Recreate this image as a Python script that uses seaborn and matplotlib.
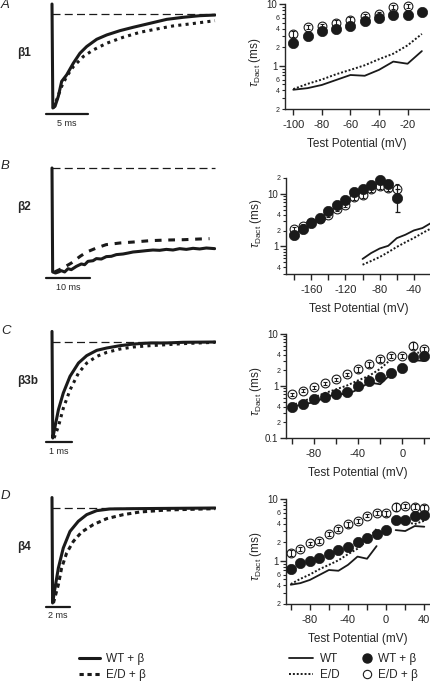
import numpy as np
import pandas as pd
import matplotlib
matplotlib.use("Agg")
import matplotlib.pyplot as plt
import seaborn as sns
from matplotlib.ticker import FixedLocator, LogLocator, FuncFormatter
from matplotlib.lines import Line2D

# ---------------- data: tail-current traces (time in ms, current normalised) ----------------
a_t_wt = [0, 0.1, 0.36, 0.75, 1.15, 1.75, 2.54, 3.33, 4.13, 5.32, 6.51, 8.1, 9.68, 11.67, 13.65, 15.63, 17.6, 19.4]
a_i_wt = [1.106, 0, 0.018, 0.124, 0.283, 0.353, 0.477, 0.583, 0.654, 0.731, 0.777, 0.823, 0.859, 0.901, 0.943, 0.965, 0.982, 0.989]
a_t_ed = [0.15, 0.56, 1.15, 1.75, 2.54, 3.73, 4.92, 6.51, 8.49, 10.5, 12.5, 14.4, 16.4, 19.4]
a_i_ed = [0.0, 0.088, 0.23, 0.336, 0.44, 0.548, 0.618, 0.689, 0.753, 0.806, 0.841, 0.873, 0.894, 0.929]

b_t_wt = [0, 0.15, 0.8, 1.5, 2.12, 2.88, 3.64, 4.39, 5.53, 6.67, 7.42, 8.18, 9.32, 10.08, 11.21, 12.35, 13.48,
          14.62, 16.14, 17.27, 18.41, 19.92, 21.44, 22.95, 24.47, 25.98, 27.5, 29.02, 30.53, 32.05, 33.56, 35.08, 36.97]
b_i_wt = [1.0, 0.01, 0.0, 0.01, 0.022, 0.010, 0.041, 0.032, 0.063, 0.086, 0.079, 0.111, 0.117, 0.137, 0.133, 0.156, 0.159,
          0.175, 0.181, 0.190, 0.2, 0.206, 0.213, 0.219, 0.216, 0.225, 0.219, 0.232, 0.225, 0.235, 0.229, 0.238, 0.232]
b_t_ed = [0.6, 2.5, 4.4, 6.4, 7.9, 10.1, 12.3, 15.5, 18.5, 22.3, 26.1, 29.8, 33.6, 35.8]
b_i_ed = [0.01, 0.048, 0.095, 0.159, 0.2, 0.238, 0.27, 0.286, 0.295, 0.308, 0.314, 0.317, 0.324, 0.327]

c_t_wt = [0, 0.03, 0.12, 0.25, 0.44, 0.7, 1.03, 1.35, 1.74, 2.13, 2.65, 3.17, 3.82, 4.47, 5.1, 6.35]
c_i_wt = [1.11, 0.0, 0.12, 0.295, 0.469, 0.642, 0.781, 0.858, 0.913, 0.9375, 0.962, 0.979, 0.99, 0.99, 0.997, 1.0]
c_t_ed = [0.08, 0.25, 0.44, 0.7, 1.03, 1.35, 1.74, 2.13, 2.65, 3.17, 3.82, 4.47, 5.1, 6.35]
c_i_ed = [0.0, 0.12, 0.31, 0.50, 0.677, 0.78, 0.85, 0.892, 0.927, 0.948, 0.962, 0.972, 0.983, 0.997]

d_t_wt = [0, 0.05, 0.25, 0.53, 0.94, 1.5, 2.19, 2.89, 3.72, 4.83, 6.78, 13.6]
d_i_wt = [1.11, 0.0, 0.158, 0.368, 0.579, 0.754, 0.86, 0.93, 0.972, 0.99, 0.993, 1.0]
d_t_ed = [0.12, 0.53, 0.8, 1.22, 1.78, 2.47, 3.44, 4.56, 5.94, 7.33, 9.56, 13.6]
d_i_ed = [0.0, 0.193, 0.368, 0.526, 0.649, 0.747, 0.825, 0.888, 0.93, 0.958, 0.979, 0.993]

# ---------------- data: tau deactivation vs test potential ----------------
# WT / E-D channels without beta (shared by A, C, D), gap at 0 mV
line_v = [-100, -90, -80, -70, -60, -50, -40, -30, -20, -10, 10, 20, 30, 40]
line_seg = [0, 0, 0, 0, 0, 0, 0, 0, 0, 0, 1, 1, 1, 1]
wt_line = [0.41, 0.435, 0.49, 0.59, 0.71, 0.69, 0.86, 1.17, 1.08, 1.73, 3.14, 3.03, 3.65, 3.56]
ed_line = [0.42, 0.51, 0.60, 0.73, 0.86, 1.02, 1.28, 1.57, 2.14, 3.28, 4.45, 4.29, 3.93, 4.45]

# beta2 panel has its own no-beta curves
b_line_v = [-100, -90, -80, -70, -60, -50, -40, -30, -20]
b_line_seg = [0] * 9
b_wt_line = [0.58, 0.75, 0.915, 1.03, 1.44, 1.67, 2.02, 2.24, 2.79]
b_ed_line = [0.45, 0.53, 0.63, 0.78, 0.98, 1.2, 1.45, 1.8, 2.2]

a_v = [-100, -90, -80, -70, -60, -50, -40, -30, -20, -10]
a_wtb = [2.36, 3.0, 3.6, 3.9, 4.45, 5.4, 5.9, 6.6, 6.6, 7.3]
a_wtb_err = [0.2, 0.2, 0.25, 0.3, 0.3, 0.3, 0.3, 0.4, 0.4, 0.4]
a_edb = [3.24, 4.2, 4.35, 4.9, 5.55, 6.5, 6.9, 9.0, 9.4]
a_edb_err = [0.35, 0.3, 0.35, 0.55, 0.7, 0.35, 0.4, 0.8, 0.7]

b_v = [-180, -170, -160, -150, -140, -130, -120, -110, -100, -90, -80, -70, -60]
b_wtb = [1.62, 2.18, 2.79, 3.48, 4.67, 6.25, 7.8, 10.8, 12.1, 14.7, 18.0, 15.3, 8.4]
b_wtb_err = [0.15, 0.2, 0.2, 0.3, 0.4, 0.6, 0.7, 1.0, 1.2, 1.4, 1.8, 1.6, 3.9]
b_edb = [2.18, 2.5, 2.9, 3.3, 4.0, 5.2, 6.25, 8.8, 9.7, 12.5, 14.4, 13.0, 12.6]
b_edb_err = [0.2, 0.2, 0.25, 0.3, 0.4, 0.5, 0.6, 1.0, 1.2, 1.5, 1.8, 1.5, 3.0]

c_v = [-100, -90, -80, -70, -60, -50, -40, -30, -20, -10, 0, 10, 20]
c_wtb = [0.40, 0.46, 0.56, 0.62, 0.69, 0.78, 1.0, 1.27, 1.51, 1.8, 2.25, 3.67, 3.78]
c_wtb_err = [0.02, 0.02, 0.03, 0.03, 0.04, 0.04, 0.05, 0.06, 0.08, 0.09, 0.1, 0.3, 0.3]
c_edb = [0.69, 0.81, 0.94, 1.12, 1.36, 1.68, 2.09, 2.61, 3.26, 3.83, 3.83, 5.97, 5.15]
c_edb_err = [0.05, 0.05, 0.06, 0.07, 0.09, 0.12, 0.2, 0.3, 0.35, 0.3, 0.3, 0.9, 0.45]

d_v = [-100, -90, -80, -70, -60, -50, -40, -30, -20, -10, 0, 10, 20, 30, 40]
d_wtb = [0.73, 0.91, 0.98, 1.13, 1.31, 1.49, 1.69, 2.0, 2.3, 2.67, 3.14, 4.57, 4.57, 5.3, 5.5]
d_wtb_err = [0.04, 0.05, 0.05, 0.06, 0.07, 0.08, 0.09, 0.1, 0.12, 0.15, 0.2, 0.4, 0.4, 0.5, 0.6]
d_edb = [1.36, 1.58, 1.91, 2.11, 2.71, 3.26, 3.88, 4.45, 5.37, 6.0, 5.86, 7.5, 7.7, 7.5, 7.1]
d_edb_err = [0.15, 0.12, 0.14, 0.16, 0.2, 0.25, 0.35, 0.3, 0.35, 0.45, 0.5, 1.1, 0.5, 0.7, 0.9]

labels_beta = ["β1", "β2", "β3b", "β4"]
panel_letters = ["A", "B", "C", "D"]
scale_ms = [5, 10, 1, 2]

# ---------------- style ----------------
sns.set_theme(style="ticks")
plt.rcParams["font.family"] = ["Liberation Sans", "DejaVu Sans"]
plt.rcParams["mathtext.fontset"] = "custom"
plt.rcParams["mathtext.rm"] = "Liberation Sans"
plt.rcParams["mathtext.it"] = "Liberation Sans:italic"
plt.rcParams["axes.unicode_minus"] = False
plt.rcParams["axes.linewidth"] = 1.0

W, H = 431, 682
fig = plt.figure(figsize=(W / 100, H / 100), dpi=100)


def px_axes(l, t, r, b):
    return fig.add_axes([l / W, 1 - b / H, (r - l) / W, (b - t) / H])


def minor_label(v, pos, lab):
    # only a few minor ticks carry a label, showing just the leading digit
    for l in lab:
        if abs(v - l) < 1e-6 * max(l, 1):
            return str(int(round(v / 10 ** np.floor(np.log10(v)))))
    return ""


# ---------------- left column: traces ----------------
# (pixels per ms, pixel of zero current, pixel of full current, scale bar offset)
trace_geom = [(8.4, 108, 14, 6), (4.4, 273, 168, 5), (25.7, 438, 342, 4), (12.0, 603, 508, 4)]
traces = [(a_t_wt, a_i_wt, a_t_ed, a_i_ed, (0, (1.0, 1.4))),
          (b_t_wt, b_i_wt, b_t_ed, b_i_ed, (0, (2.2, 2.2))),
          (c_t_wt, c_i_wt, c_t_ed, c_i_ed, (0, (1.0, 1.4))),
          (d_t_wt, d_i_wt, d_t_ed, d_i_ed, (0, (1.4, 1.2)))]

for k, ((pxms, y0, y1, boff), (t_wt, i_wt, t_ed, i_ed, dash)) in enumerate(zip(trace_geom, traces)):
    span = y0 - y1
    ax = px_axes(40, y1 - 14, 216, y0 + 24)
    ax.set_xlim((40 - 52) / pxms, (216 - 52) / pxms)
    ax.set_ylim(-24 / span, 1 + 14 / span)
    ax.axis("off")
    t_end = max(max(t_wt), max(t_ed))
    ax.hlines(1, 0, t_end, colors="k", lw=0.9, linestyles=(0, (6.4, 3.4)))
    sns.lineplot(x=t_ed, y=i_ed, estimator=None, sort=False, color="k", lw=2.2,
                 linestyle=dash, ax=ax)
    sns.lineplot(x=t_wt, y=i_wt, estimator=None, sort=False, color="k", lw=2.2, ax=ax)
    # scale bar
    x_start = (46 - 52) / pxms
    yb = -boff / span
    ax.plot([x_start, x_start + scale_ms[k]], [yb, yb], color="k", lw=1.6, clip_on=False)
    ax.text(x_start + scale_ms[k] / 2, -(boff + 9) / span, f"{scale_ms[k]} ms",
            ha="center", va="center", fontsize=6.5)
    fig.text(17 / W, 1 - (y1 + 39) / H, labels_beta[k], fontsize=8.5, fontweight="bold",
             va="center", ha="left")

for letter, yc in zip(panel_letters, [5, 166, 331, 496]):
    fig.text(1 / W, 1 - yc / H, letter, fontsize=9.5, style="italic", va="center", ha="left")

# ---------------- right column: tau vs voltage ----------------
panels = [
    dict(box=(285, 4, 429, 109), xlim=(-105.8, -5.0), ylim=(0.2, 10),
         xmaj=[-100, -80, -60, -40, -20], xmin=[], ymaj=[1, 10], ylab=[0.2, 0.4, 0.6, 2, 4, 6],
         v=a_v, wtb=a_wtb, wtb_err=a_wtb_err, edb=a_edb, edb_err=a_edb_err,
         lv=line_v, lseg=line_seg, lwt=wt_line, led=ed_line, ly=0.45),
    dict(box=(286, 178, 431, 274), xlim=(-189.5, -20), ylim=(0.3, 20),
         xmaj=[-160, -120, -80, -40], xmin=[-180, -140, -100, -60, -20], ymaj=[1, 10], ylab=[0.4, 2, 4, 20],
         v=b_v, wtb=b_wtb, wtb_err=b_wtb_err, edb=b_edb, edb_err=b_edb_err,
         lv=b_line_v, lseg=b_line_seg, lwt=b_wt_line, led=b_ed_line, ly=0.53),
    dict(box=(286, 334, 430, 438), xlim=(-105, 25), ylim=(0.1, 10),
         xmaj=[-80, -40, 0], xmin=[-100, -60, -20, 20], ymaj=[0.1, 1, 10], ylab=[0.2, 0.4, 2, 4],
         v=c_v, wtb=c_wtb, wtb_err=c_wtb_err, edb=c_edb, edb_err=c_edb_err,
         lv=line_v, lseg=line_seg, lwt=wt_line, led=ed_line, ly=0.45),
    dict(box=(286, 499, 430, 604), xlim=(-105, 46), ylim=(0.2, 10),
         xmaj=[-80, -40, 0, 40], xmin=[-100, -60, -20, 20], ymaj=[1, 10], ylab=[0.2, 0.4, 0.6, 2, 4, 6],
         v=d_v, wtb=d_wtb, wtb_err=d_wtb_err, edb=d_edb, edb_err=d_edb_err,
         lv=line_v, lseg=line_seg, lwt=wt_line, led=ed_line, ly=0.46),
]

for p in panels:
    ax = px_axes(*p["box"])
    ax.set_yscale("log")
    lines = pd.DataFrame({"v": p["lv"], "seg": p["lseg"], "wt": p["lwt"], "ed": p["led"]})
    lines = lines[(lines.v >= p["xlim"][0]) & (lines.v <= p["xlim"][1] + 1)]
    sns.lineplot(data=lines, x="v", y="wt", units="seg", estimator=None, color="k", lw=1.3, ax=ax, zorder=2)
    sns.lineplot(data=lines, x="v", y="ed", units="seg", estimator=None, color="k", lw=1.4,
                 linestyle=(0, (1, 1)), ax=ax, zorder=2)
    n_ed = len(p["edb"])
    sns.scatterplot(x=p["v"][:n_ed], y=p["edb"], marker="o", s=40, facecolor="white", edgecolor="k",
                    linewidth=0.8, ax=ax, zorder=3, clip_on=False)
    ax.errorbar(p["v"][:n_ed], p["edb"], yerr=p["edb_err"], fmt="none", ecolor="k", elinewidth=0.8,
                capsize=1.6, capthick=0.8, zorder=4)
    ax.errorbar(p["v"], p["wtb"], yerr=p["wtb_err"], fmt="none", ecolor="k", elinewidth=0.9,
                capsize=1.8, capthick=0.9, zorder=5)
    sns.scatterplot(x=p["v"], y=p["wtb"], marker="o", s=55, color="k", edgecolor="k",
                    linewidth=0.5, ax=ax, zorder=6, clip_on=False)

    ax.set_xlim(*p["xlim"])
    ax.set_ylim(*p["ylim"])
    ax.xaxis.set_major_locator(FixedLocator(p["xmaj"]))
    ax.xaxis.set_minor_locator(FixedLocator(p["xmin"]))
    ax.yaxis.set_major_locator(FixedLocator(p["ymaj"]))
    ax.yaxis.set_major_formatter(FuncFormatter(lambda v, pos: f"{v:g}"))
    ax.yaxis.set_minor_locator(LogLocator(base=10, subs=np.arange(2, 10), numticks=20))
    ax.yaxis.set_minor_formatter(FuncFormatter(lambda v, pos, lab=p["ylab"]: minor_label(v, pos, lab)))
    ax.tick_params(axis="x", which="major", direction="out", length=4, width=1, labelsize=8, pad=4)
    ax.tick_params(axis="x", which="minor", direction="out", length=4, width=1)
    ax.tick_params(axis="y", which="major", direction="out", length=4, width=1, labelsize=7, pad=1.5)
    ax.tick_params(axis="y", which="minor", direction="out", length=2.5, width=0.8, labelsize=5, pad=1.5)
    sns.despine(ax=ax)
    ax.set_xlabel("Test Potential (mV)", fontsize=8.5, labelpad=6)
    ax.set_ylabel(r"$\tau_{\mathrm{Dact}}$ (ms)", fontsize=8.5)
    ax.yaxis.set_label_coords(-0.15, p["ly"])
    ax.set_facecolor("none")

# ---------------- legends ----------------
lw_trace = 2.2
fig.legend(handles=[Line2D([], [], color="k", lw=lw_trace),
                    Line2D([], [], color="k", lw=lw_trace, ls=(0, (1.4, 1.2)))],
           labels=["WT + β", "E/D + β"], loc="upper left",
           bbox_to_anchor=(79 / W, 1 - 653 / H), frameon=False, fontsize=8.5,
           handlelength=1.8, handletextpad=0.5, labelspacing=0.35,
           borderpad=0, borderaxespad=0)
fig.legend(handles=[Line2D([], [], color="k", lw=1.3),
                    Line2D([], [], color="k", lw=1.4, ls=(0, (1, 1)))],
           labels=["WT", "E/D"], loc="upper left",
           bbox_to_anchor=(289 / W, 1 - 653 / H), frameon=False, fontsize=8.5,
           handlelength=2.0, handletextpad=0.6, labelspacing=0.35,
           borderpad=0, borderaxespad=0)
fig.legend(handles=[Line2D([], [], color="k", marker="o", ls="none", ms=6.5),
                    Line2D([], [], color="k", marker="o", ls="none", ms=6, mfc="white", mew=0.8)],
           labels=["WT + β", "E/D + β"], loc="upper left",
           bbox_to_anchor=(361 / W, 1 - 653 / H), frameon=False, fontsize=8.5,
           handlelength=1.0, handletextpad=0.4, labelspacing=0.35,
           borderpad=0, borderaxespad=0)

fig.savefig("out.png", dpi=100, facecolor="white")
